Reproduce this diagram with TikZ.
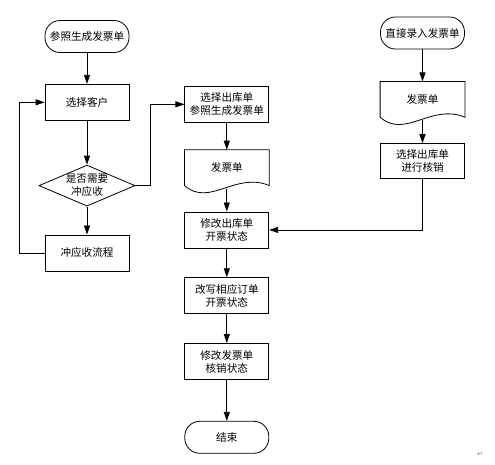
\documentclass[tikz,border=0pt]{standalone}
\usepackage{fontspec}
\setmainfont{Noto Sans CJK SC}
\newfontfamily\symfont{DejaVu Sans}
\usepackage{tikz}
\usetikzlibrary{arrows,arrows.meta,shapes,positioning,calc}
\tikzstyle{arrow} = [line width=0.8pt,->,>={Triangle[length=9pt,width=6pt]},color=black]
\tikzstyle{stepbox} = [rectangle, minimum width=84pt, minimum height=36pt, text centered, align=center, draw=black, line width=0.8pt, font=\fontsize{10.6}{13}\selectfont]
\tikzstyle{termbox} = [stepbox, rounded corners=15pt, minimum height=32pt]
\tikzstyle{docbox} = [stepbox, draw=none, minimum height=35pt]
\tikzstyle{decbox} = [diamond, aspect=2.3, inner sep=0pt, minimum width=96pt, minimum height=41pt, align=center, draw=black, line width=0.8pt, font=\fontsize{10.6}{13}\selectfont]
% document symbol: rectangle with a wavy bottom
\newcommand{\drawdoc}[1]{\draw[line width=0.8pt] (#1.south west) -- (#1.north west) -- (#1.north east) -- (#1.south east) .. controls ($(#1.south east)+(-34pt,14pt)$) and ($(#1.south west)+(25pt,-22pt)$) .. (#1.south west);}
\begin{document}
\begin{tikzpicture}[node distance=28pt]
\useasboundingbox (0,0) rectangle (495pt,-464pt);

% left column
\node[termbox] (start) at (87pt,-36.5pt) {参照生成发票单};
\node[stepbox, below=31pt of start] (kehu) {选择客户};
\node[decbox, below=44pt of kehu] (chongq) {是否需要\\冲应收};
\node[stepbox, below=28pt of chongq] (chong) {冲应收流程};

% middle column
\node[stepbox, right=55pt of kehu, yshift=-2pt] (cankao) {选择出库单\\参照生成发票单};
\node[docbox, below=27pt of cankao] (fapiao) {发票单};
\node[stepbox, below=26pt of fapiao] (xiugai) {修改出库单\\开票状态};
\node[stepbox, below=29pt of xiugai] (dingdan) {改写相应订单\\开票状态};
\node[stepbox, below=29pt of dingdan] (hexiao) {修改发票单\\核销状态};
\node[termbox, below=41pt of hexiao] (end) {结束};

% right column
\node[termbox] (luru) at (422.5pt,-33pt) {直接录入发票单};
\node[docbox, below=32pt of luru] (fapiaob) {发票单};
\node[stepbox, below=26pt of fapiaob, minimum height=35pt] (xuanze) {选择出库单\\进行核销};

\drawdoc{fapiao}
\drawdoc{fapiaob}

\draw[arrow] (start) -- (kehu);
\draw[arrow] (kehu) -- (chongq);
\draw[arrow] (chongq) -- (chong);
\draw[arrow] (chong.west) -- ++(-25pt,0) |- (kehu.west);
\draw[arrow] (chongq.east) -- ++(15pt,0) |- (cankao.west);
\draw[arrow] (cankao) -- (fapiao);
\draw[arrow, shorten <=3pt] (fapiao.south) -- (xiugai);
\draw[arrow] (xiugai) -- (dingdan);
\draw[arrow] (dingdan) -- (hexiao);
\draw[arrow] (hexiao) -- (end);
\draw[arrow] (luru) -- (fapiaob);
\draw[arrow, shorten <=3pt] (fapiaob.south) -- (xuanze);
\draw[arrow] (xuanze.south) |- (xiugai.east);

\node[font=\symfont\fontsize{7}{8}\selectfont, text=gray] (mark) at (480pt,-454pt) {↵};
\end{tikzpicture}
\end{document}
